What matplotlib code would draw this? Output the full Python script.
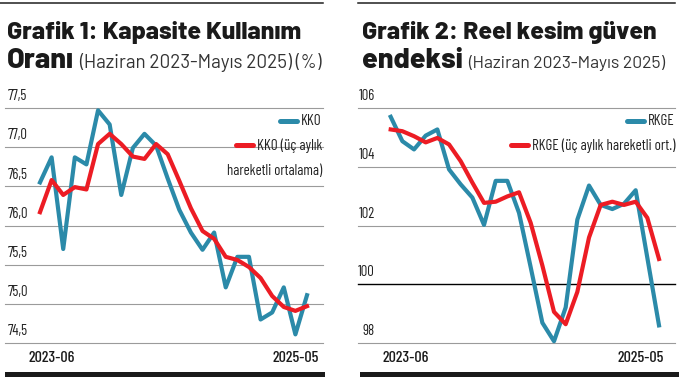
import matplotlib
matplotlib.use("Agg")
import matplotlib.pyplot as plt
from matplotlib.lines import Line2D
from matplotlib.patches import Rectangle

# --- data ---
x_labels = ["2023-06", "2025-05"]

kko = [76.55, 76.87, 75.70, 76.87, 76.78, 77.47, 77.29, 76.39, 76.99, 77.17,
       77.02, 76.60, 76.20, 75.91, 75.69, 75.91, 75.21, 75.60, 75.60, 74.80,
       74.89, 75.21, 74.61, 75.11]
kko_ma = [76.17, 76.58, 76.39, 76.49, 76.46, 77.04, 77.17, 77.04, 76.88, 76.85,
          77.04, 76.91, 76.57, 76.22, 75.93, 75.83, 75.60, 75.56, 75.47, 75.33,
          75.10, 74.96, 74.91, 74.97]
kko_ticks = [74.5, 75.0, 75.5, 76.0, 76.5, 77.0, 77.5]
kko_ticklabels = ["74,5", "75,0", "75,5", "76,0", "76,5", "77,0", "77,5"]

rkge = [105.70, 104.87, 104.59, 105.06, 105.27, 103.91, 103.40, 102.95, 102.02, 103.52,
        103.52, 102.43, 100.58, 98.69, 98.06, 99.21, 102.20, 103.36, 102.70, 102.56,
        102.74, 103.20, 100.90, 98.60]
rkge_ma = [105.27, 105.21, 105.04, 104.83, 104.98, 104.76, 104.19, 103.46, 102.77, 102.81,
           102.99, 103.13, 102.09, 100.64, 99.06, 98.64, 99.74, 101.59, 102.70, 102.81,
           102.70, 102.81, 102.26, 100.86]
rkge_ticks = [98, 100, 102, 104, 106]
rkge_ticklabels = ["98", "100", "102", "104", "106"]

BLUE = "#2b8aa9"
RED = "#ec1c24"
GRID = "#9b9b9b"
W, H = 681, 379

TITLE = ["Barlow", "Roboto", "DejaVu Sans"]
NARROW = ["Barlow Condensed", "Archivo Narrow", "DejaVu Sans"]


def fx(px):
    return px / W


def fy(py):
    return 1 - py / H


fig = plt.figure(figsize=(6.81, 3.79), dpi=100)
fig.patch.set_facecolor("white")


def panel(left_px, right_px, x0_px, x23_px, y, y_ma, ticks, ticklabels,
          ylim, tick_x, tick_ha, xtick_pos, black_line=None):
    ax = fig.add_axes([fx(left_px), fy(343), (right_px - left_px) / W, 235 / H])
    step = (x23_px - x0_px) / 23
    ax.set_xlim(-(x0_px - left_px) / step, 23 + (right_px - x23_px) / step)
    ax.set_ylim(*ylim)
    for s in ax.spines.values():
        s.set_visible(False)
    ax.set_yticks([])
    for v, lab in zip(ticks, ticklabels):
        blk = v == black_line
        ax.axhline(v, color="black" if blk else GRID, lw=1.0 if blk else 0.8,
                   zorder=1, clip_on=False)
        ax.annotate(lab, xy=((tick_x - left_px) / (right_px - left_px), v),
                    xycoords=("axes fraction", "data"), xytext=(0, 5.6),
                    textcoords="offset points", ha=tick_ha, va="baseline",
                    fontsize=10.6, color="#222222", family=NARROW)
    xs = list(range(len(y)))
    ax.plot(xs, y, color=BLUE, lw=3.0, zorder=3, clip_on=False)
    ax.plot(xs, y_ma, color=RED, lw=3.0, zorder=4, clip_on=False)
    ax.set_xticks(xtick_pos, x_labels)
    ax.tick_params(axis="x", length=0, pad=6.0, labelsize=11.5, colors="#1a1a1a")
    for t in ax.get_xticklabels():
        t.set_fontfamily(NARROW)
        t.set_fontweight("medium")
    ax.set_facecolor("none")
    return ax


ax1 = panel(5, 323, 40, 307, kko, kko_ma, kko_ticks, kko_ticklabels,
            (74.5, 77.5), 8, "left", [1, 22])
ax2 = panel(358, 675, 390.7, 659, rkge, rkge_ma, rkge_ticks, rkge_ticklabels,
            (98, 106), 375, "right", [1.3, 21.45], black_line=100)

# top rules and bottom bars
for a, b in [(0, 323), (358, 675)]:
    fig.add_artist(Line2D([fx(a), fx(b)], [fy(3.3), fy(3.3)], color="#1f1f1f", lw=1.1))
for a, b in [(5, 325), (360, 679)]:
    fig.add_artist(Rectangle((fx(a), fy(377)), (b - a) / W, 5 / H, color="#1a1a1a",
                             transform=fig.transFigure, lw=0))

fig.canvas.draw()
rend = fig.canvas.get_renderer()


def text_px(x, y, s, **kw):
    return fig.text(fx(x), fy(y), s, va="baseline", **kw)


# titles
for x0, line1, line2, sub, subsize in [
        (7, "Grafik 1: Kapasite Kullanım", "Oranı", "(Haziran 2023-Mayıs 2025) (%)", 13.6),
        (362, "Grafik 2: Reel kesim güven", "endeksi", "(Haziran 2023-Mayıs 2025)", 12.6)]:
    text_px(x0, 39, line1, fontsize=17.8, fontweight="heavy", family=TITLE, color="#1a1a1a")
    t = text_px(x0, 68, line2, fontsize=20.5, fontweight="heavy", family=TITLE, color="#1a1a1a")
    bb = t.get_window_extent(rend)
    fig.text(bb.x1 / W + fx(5), fy(68), sub, va="baseline",
             fontsize=subsize, family=TITLE, color="#333333")


# legends (handle to the left of right-aligned text)
def legend_entry(right_px, y_px, label, color, extra=None):
    t = fig.text(fx(right_px), fy(y_px), label, ha="right", va="center",
                 fontsize=10.8, color="#222222", family=NARROW)
    bb = t.get_window_extent(rend)
    x1 = bb.x0 - 4
    fig.add_artist(Line2D([(x1 - 17) / W, x1 / W], [fy(y_px - 0.5)] * 2, color=color,
                          lw=3.6, solid_capstyle="round"))
    if extra:
        fig.text(fx(right_px), fy(y_px + 25), extra, ha="right", va="center",
                 fontsize=10.6, color="#222222", family=NARROW)


legend_entry(322, 121, "KKO", BLUE)
legend_entry(322, 146, "KKO (üç aylık", RED, "hareketli ortalama)")
legend_entry(675, 121, "RKGE", BLUE)
legend_entry(675, 146, "RKGE (üç aylık hareketli ort.)", RED)

fig.savefig("out.png", dpi=100, facecolor="white")
